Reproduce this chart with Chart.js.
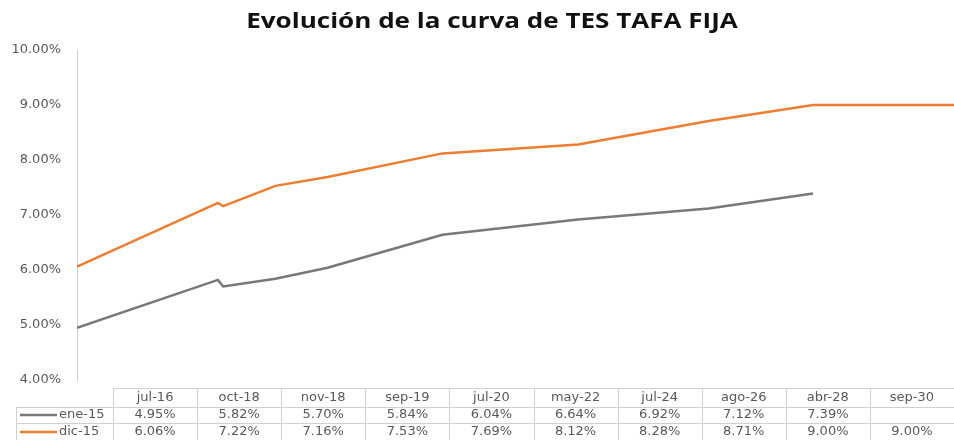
<!DOCTYPE html>
<html>
<head>
<meta charset="utf-8">
<script src="https://cdn.jsdelivr.net/npm/chart.js@4"></script>
<style>
  html, body { margin:0; padding:0; background:#fff; }
  #wrap { width:954px; height:440px; position:relative; }
</style>
</head>
<body>
<div id="wrap"><canvas id="curva"></canvas></div>
<script>
const title = "Evolución de la curva de TES TAFA FIJA";
const categories = ["jul-16","oct-18","nov-18","sep-19","jul-20","may-22","jul-24","ago-26","abr-28","sep-30"];
const seriesNames = ["ene-15","dic-15"];
const ene15 = [4.95, 5.82, 5.70, 5.84, 6.04, 6.64, 6.92, 7.12, 7.39, null];
const dic15 = [6.06, 7.22, 7.16, 7.53, 7.69, 8.12, 8.28, 8.71, 9.00, 9.00];
const yMin = 4, yMax = 10, yStep = 1;

const colors = ["#787878", "#ed7d31"];
const txtColor = "#595959";
const gridColor = "#d0d0d0";

// excel plots the maturities on a date axis: months since the first one
const meses = ["ene","feb","mar","abr","may","jun","jul","ago","sep","oct","nov","dic"];
function monthNum(lbl) {
    const [m, y] = lbl.split("-");
    return (2000 + parseInt(y)) * 12 + meses.indexOf(m);
}
const base = monthNum(categories[0]);
const toPoints = arr => categories.map((c, i) => ({ x: monthNum(c) - base, y: arr[i] }));

const pct = v => v.toFixed(2) + "%";

// title + data table under the plot
const tablePlugin = {
    id: "tabla",
    afterDraw(chart) {
        const ctx = chart.ctx;
        ctx.save();
        ctx.fillStyle = "#111";
        ctx.font = "bold 21px 'Open Sans'";
        ctx.textAlign = "center";
        ctx.textBaseline = "middle";
        ctx.translate(492, 22);
        ctx.scale(1.24, 1);   // the original is stretched sideways
        ctx.fillText(title, 0, 0);
        ctx.setTransform(1, 0, 0, 1, 0, 0);

        const legendX = 16, colX = 113, right = 954;
        const colW = (right - colX) / categories.length;
        const rows = [388, 407, 423, 441];

        ctx.strokeStyle = gridColor;
        ctx.lineWidth = 1;
        ctx.beginPath();
        ctx.moveTo(colX, rows[0] + 0.5); ctx.lineTo(right, rows[0] + 0.5);
        ctx.moveTo(legendX, rows[1] + 0.5); ctx.lineTo(right, rows[1] + 0.5);
        ctx.moveTo(legendX, rows[2] + 0.5); ctx.lineTo(right, rows[2] + 0.5);
        ctx.moveTo(legendX + 0.5, rows[1]); ctx.lineTo(legendX + 0.5, rows[3]);
        for (let i = 0; i <= categories.length; i++) {
            const x = Math.round(colX + i * colW) + 0.5;
            ctx.moveTo(x, rows[0]); ctx.lineTo(x, rows[3]);
        }
        ctx.stroke();

        ctx.font = "13px 'DejaVu Sans'";
        ctx.fillStyle = txtColor;
        ctx.textAlign = "center";
        const values = [ene15, dic15];
        categories.forEach((c, i) => {
            const cx = colX + (i + 0.5) * colW;
            ctx.fillText(c, cx, (rows[0] + rows[1]) / 2);
            values.forEach((arr, r) => {
                if (arr[i] != null) ctx.fillText(pct(arr[i]), cx, (rows[r + 1] + rows[r + 2]) / 2);
            });
        });

        ctx.textAlign = "left";
        seriesNames.forEach((name, r) => {
            const cy = (rows[r + 1] + rows[r + 2]) / 2;
            ctx.strokeStyle = colors[r];
            ctx.lineWidth = 2.5;
            ctx.beginPath();
            ctx.moveTo(20, cy); ctx.lineTo(57, cy);
            ctx.stroke();
            ctx.fillText(name, 59, cy);
        });
        ctx.restore();
    }
};

new Chart(document.getElementById("curva"), {
    type: "line",
    data: {
        datasets: [
            { label: seriesNames[0], data: toPoints(ene15), borderColor: colors[0], borderWidth: 2.5, pointRadius: 0, tension: 0 },
            { label: seriesNames[1], data: toPoints(dic15), borderColor: colors[1], borderWidth: 2.5, pointRadius: 0, tension: 0 }
        ]
    },
    options: {
        responsive: true,
        maintainAspectRatio: false,
        animation: false,
        layout: { padding: { top: 50, bottom: 60, left: 0, right: 0 } },
        plugins: { legend: { display: false }, title: { display: false }, tooltip: { enabled: false } },
        scales: {
            x: { type: "linear", display: false, min: 0, max: 168 },
            y: {
                min: yMin, max: yMax,
                afterFit: s => { s.width = 77; },
                grid: { display: false },
                border: { display: true, color: gridColor, width: 1 },
                ticks: {
                    stepSize: yStep, padding: 8, color: txtColor,
                    font: { family: "DejaVu Sans", size: 13 },
                    callback: v => pct(v)
                }
            }
        }
    },
    plugins: [tablePlugin]
});
</script>
</body>
</html>
